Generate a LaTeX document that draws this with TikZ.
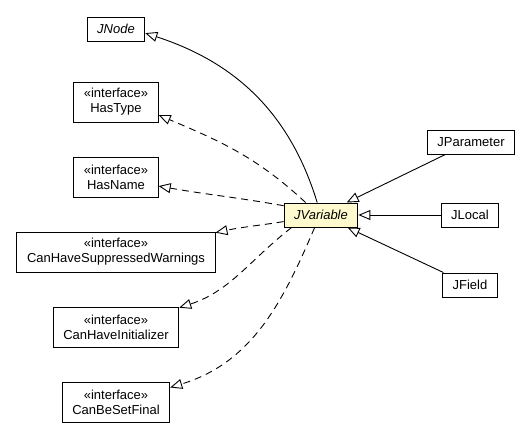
\documentclass[tikz,border=0pt]{standalone}
\usepackage{fontspec}
\setmainfont{Liberation Sans}
\usetikzlibrary{arrows.meta}

\definecolor{focusfill}{RGB}{255,250,205}

\begin{document}
\begin{tikzpicture}[x=1pt, y=1pt,
    every node/.style={font=\fontsize{13}{15}\selectfont, line width=1pt},
    classbox/.style={draw, inner xsep=10pt, minimum height=24pt},
    ifacebox/.style={draw, align=center, inner xsep=10pt, minimum height=40pt},
    extends/.style={line width=0.9pt, -{Triangle[open, length=12pt, width=10pt]}},
    implements/.style={extends, dash pattern=on 7pt off 5pt}]
  \useasboundingbox (0,0) rectangle (529,-432);
  % Nodes
  \node[classbox, fill=focusfill] (jvariable) at (321,-215) {\textit{JVariable}};
  \node[classbox] (jnode) at (116,-29) {\textit{JNode}};
  \foreach \name/\txt/\y in {hastype/HasType/102, hasname/HasName/177,
      suppressed/CanHaveSuppressedWarnings/252, initializer/CanHaveInitializer/327,
      setfinal/CanBeSetFinal/402}
  \node[ifacebox] (\name) at (116,-\y) {«interface»\\\txt};
  \node[classbox] (jparameter) at (471,-142) {JParameter};
  \node[classbox] (jlocal) at (470,-215) {JLocal};
  \node[classbox] (jfield) at (470,-285) {JField};

  % Arrows
  \foreach \sub in {jparameter, jlocal, jfield}
  \draw[extends] (\sub) -- (jvariable);
  \draw[extends] (jvariable.107) to[out=107, in=-18] (jnode.-8);
  \draw[implements] (jvariable.141) to[out=137, in=-23] (hastype.-17);
  \draw[implements] (jvariable.166) to[out=170, in=-10] (hasname.-12);
  \draw[implements] (jvariable.190) to[out=189, in=12] (suppressed.11);
  \draw[implements] (jvariable.203) to[out=218, in=18] (initializer.17);
  \draw[implements] (jvariable.243) to[out=247, in=17] (setfinal.15);
\end{tikzpicture}
\end{document}
